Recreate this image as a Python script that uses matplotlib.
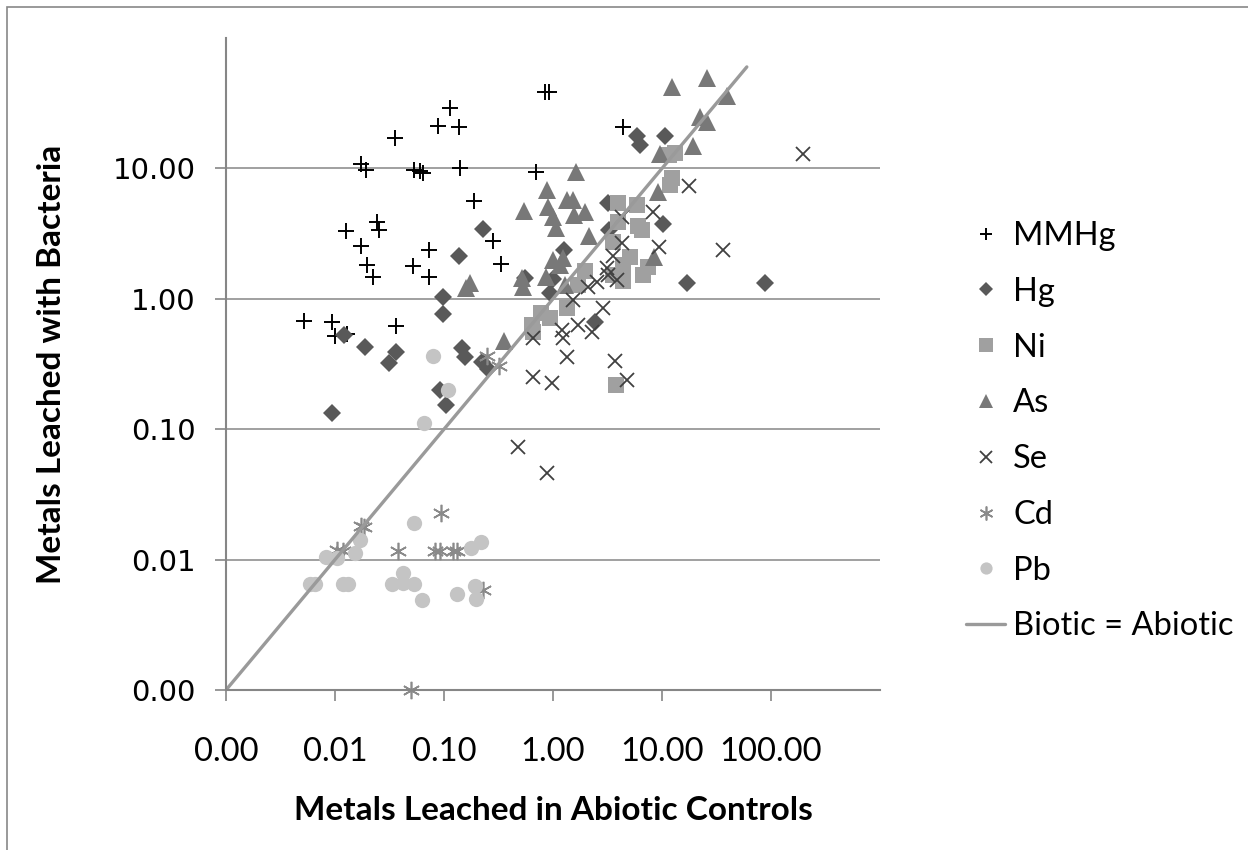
import matplotlib
matplotlib.use("Agg")
import matplotlib.pyplot as plt
from matplotlib.patches import Rectangle
from matplotlib.ticker import FixedLocator, NullLocator, FuncFormatter

# values: x = abiotic control, y = with bacteria
mmhg_x = [0.0355, 0.088, 0.137, 0.113, 0.845, 0.92, 4.39, 0.0173, 0.0193, 0.053, 0.060,
          0.064, 0.140, 0.70, 0.188, 0.0243, 0.0254, 0.0126, 0.0173, 0.0728, 0.282, 0.0197,
          0.0224, 0.052, 0.0728, 0.333, 0.0052, 0.0094, 0.0100, 0.0129, 0.0363]
mmhg_y = [17.1, 21.1, 20.8, 29.1, 38.5, 38.5, 20.8, 10.8, 9.7, 9.7, 9.55,
          9.2, 10.07, 9.4, 5.6, 3.88, 3.37, 3.31, 2.54, 2.37, 2.77, 1.82,
          1.47, 1.79, 1.47, 1.85, 0.676, 0.664, 0.519, 0.537, 0.618]

hg_x = [0.0094, 0.0121, 0.0188, 0.0313, 0.0363, 0.098, 0.098, 0.137, 0.228, 0.146, 0.156,
        0.223, 0.253, 0.092, 0.104, 0.553, 1.0, 0.94, 1.26, 2.43, 3.2, 3.27, 5.9, 6.28,
        10.7, 10.2, 16.9, 88]
hg_y = [0.133, 0.528, 0.427, 0.322, 0.391, 0.765, 1.03, 2.13, 3.43, 0.42, 0.358,
        0.327, 0.29, 0.20, 0.153, 1.44, 1.42, 1.11, 2.37, 0.664, 5.43, 3.37, 17.7, 15.1,
        17.7, 3.75, 1.32, 1.32]

ni_x = [13.2, 11.6, 12.4, 11.8, 3.95, 5.9, 3.95, 6.03, 6.56, 3.55, 5.08, 4.39, 7.44, 6.7,
        3.55, 4.39, 1.97, 1.69, 1.34, 0.776, 0.94, 0.64, 0.656, 3.79]
ni_y = [13.1, 12.7, 8.4, 7.46, 5.43, 5.24, 3.88, 3.61, 3.37, 2.73, 2.09, 1.82, 1.75, 1.52,
        1.52, 1.37, 1.63, 1.28, 0.85, 0.778, 0.712, 0.63, 0.556, 0.218]

as_x = [12.4, 25.9, 39.5, 22.3, 25.9, 19.2, 9.6, 1.63, 0.88, 0.54, 0.9, 1.34, 1.52, 1.97,
        1.56, 1.0, 1.07, 2.14, 9.2, 1.0, 1.24, 1.16, 0.173, 0.159, 0.52, 0.53, 0.86, 1.29,
        0.355, 8.45]
as_y = [42.1, 49.3, 35.9, 24.8, 22.7, 14.9, 12.9, 9.38, 6.83, 4.71, 5.06, 5.72, 5.72, 4.63,
        4.39, 4.24, 3.49, 3.03, 6.6, 1.99, 2.06, 1.82, 1.32, 1.21, 1.44, 1.23, 1.47, 1.28,
        0.475, 2.09]

se_x = [197, 17.7, 8.26, 4.3, 4.3, 9.38, 36.3, 3.55, 3.13, 2.54, 2.09, 3.86, 3.2, 1.52,
        2.88, 1.21, 1.69, 2.28, 1.24, 0.656, 1.34, 3.71, 4.78, 0.656, 0.98, 0.477, 0.88]
se_y = [12.9, 7.33, 4.63, 4.24, 2.68, 2.5, 2.37, 2.13, 1.72, 1.35, 1.23, 1.39, 1.52, 0.98,
        0.85, 0.577, 0.63, 0.556, 0.5, 0.5, 0.358, 0.333, 0.238, 0.251, 0.226, 0.073, 0.046]

cd_x = [0.0173, 0.0185, 0.0104, 0.0118, 0.0378, 0.094, 0.083, 0.092, 0.121, 0.131, 0.228,
        0.0498, 0.248, 0.32]
cd_y = [0.0181, 0.0178, 0.0119, 0.0117, 0.0117, 0.0228, 0.0117, 0.0117, 0.0117, 0.0117,
        0.00585, 0.001, 0.364, 0.305]

pb_x = [0.053, 0.017, 0.0083, 0.0104, 0.0152, 0.177, 0.218, 0.0059, 0.0066, 0.0118, 0.0132,
        0.0333, 0.042, 0.042, 0.053, 0.0628, 0.131, 0.192, 0.197, 0.079, 0.109, 0.0656]
pb_y = [0.0191, 0.0141, 0.0105, 0.0102, 0.0112, 0.0123, 0.0136, 0.0065, 0.0065, 0.0065,
        0.0065, 0.0065, 0.0079, 0.0066, 0.0065, 0.0049, 0.0054, 0.0063, 0.005, 0.364,
        0.20, 0.112]

line_x = [0.001, 60]
line_y = [0.001, 60]

x_ticks = [0.001, 0.01, 0.1, 1, 10, 100]
y_ticks = [0.001, 0.01, 0.1, 1, 10]

fig = plt.figure(figsize=(12.48, 8.5), dpi=100)
ax = fig.add_axes([226 / 1248, 1 - 690 / 850, (880 - 226) / 1248, (690 - 38) / 850])

common = dict(linestyle="none", clip_on=False)
ax.plot(mmhg_x, mmhg_y, marker="+", color="black", ms=11, mew=1.4, label="MMHg", **common)
ax.plot(hg_x, hg_y, marker="D", color="#595959", ms=9, mew=0, label="Hg", **common)
ax.plot(ni_x, ni_y, marker="s", color="#a0a0a0", ms=12, mew=0, label="Ni", **common)
ax.plot(as_x, as_y, marker="^", color="#787878", ms=12.5, mew=0, label="As", **common)
ax.plot(se_x, se_y, marker="x", color="#404040", ms=10.5, mew=1.3, label="Se", **common)
ax.plot(cd_x, cd_y, marker=(6, 2, 0), color="#8a8a8a", ms=12.5, mew=1.2, label="Cd", **common)
ax.plot(pb_x, pb_y, marker="o", color="#c4c4c4", ms=11, mew=0, label="Pb", **common)
ax.plot(line_x, line_y, color="#9a9a9a", lw=2.4, label="Biotic = Abiotic", solid_capstyle="round")

ax.set_xscale("log")
ax.set_yscale("log")
ax.set_xlim(0.001, 1000)
ax.set_ylim(0.001, 100)
ax.xaxis.set_major_locator(FixedLocator(x_ticks))
ax.yaxis.set_major_locator(FixedLocator(y_ticks))
ax.xaxis.set_minor_locator(NullLocator())
ax.yaxis.set_minor_locator(NullLocator())
fmt = FuncFormatter(lambda v, p: f"{v:.2f}")
ax.xaxis.set_major_formatter(fmt)
ax.yaxis.set_major_formatter(fmt)

for s in ["top", "right"]:
    ax.spines[s].set_visible(False)
for s in ["left", "bottom"]:
    ax.spines[s].set_color("#868686")
    ax.spines[s].set_linewidth(1.5)
ax.tick_params(axis="both", color="#868686", width=1.2, length=8, direction="out")
ax.tick_params(axis="x", pad=26)
ax.tick_params(axis="y", pad=14)
for t in ax.get_xticklabels():
    t.set_fontfamily("Lato")
    t.set_fontsize(23.5)
for t in ax.get_yticklabels():
    t.set_fontfamily("DejaVu Sans")
    t.set_fontsize(21)
ax.grid(axis="y", color="#868686", lw=1.1)
ax.set_axisbelow(True)

fig.text(553 / 1248, 1 - 810 / 850, "Metals Leached in Abiotic Controls", ha="center", va="center",
         fontsize=24, fontweight="bold", family="Lato")
fig.text(52 / 1248, 1 - 364 / 850, "Metals Leached with Bacteria", ha="center", va="center",
         rotation=90, fontsize=24, fontweight="bold", family="Lato")

fig.legend(loc="upper left", bbox_to_anchor=(966 / 1248, 1 - 221 / 850), frameon=False,
           prop={"family": "Lato", "size": 23.5}, handlelength=1.2, handletextpad=0.25,
           labelspacing=0.79, borderpad=0, borderaxespad=0, markerscale=0.8)

fig.patches.append(Rectangle((7 / 1248, -0.1), 1.2, 1.1 - 7 / 850, transform=fig.transFigure,
                             fill=False, edgecolor="#878787", lw=1.2))

fig.savefig("out.png", dpi=100)
